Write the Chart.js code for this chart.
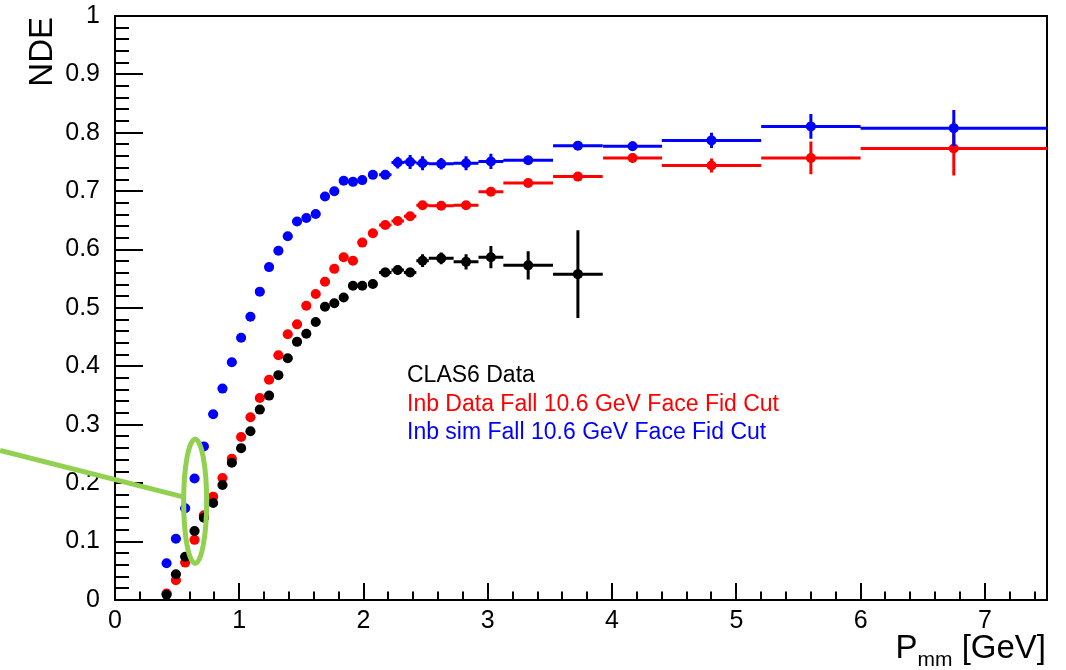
<!DOCTYPE html>
<html>
<head>
<meta charset="utf-8">
<script src="https://cdn.jsdelivr.net/npm/chart.js@4"></script>
<style>
  body { margin: 0; background: #fff; }
  canvas { display: block; }
</style>
</head>
<body>
<canvas id="nde" width="1066" height="670"></canvas>
<script>
// missing-momentum bin centres (GeV) and half widths
const pmm = [0.415, 0.49, 0.565, 0.64, 0.715, 0.79, 0.865, 0.94, 1.015, 1.09,
  1.165, 1.24, 1.315, 1.39, 1.465, 1.54, 1.615, 1.69, 1.765, 1.84,
  1.915, 1.99, 2.075, 2.175, 2.275, 2.375, 2.475, 2.625, 2.825, 3.025,
  3.325, 3.725, 4.165, 4.8, 5.6, 6.75];
const pmmErr = [0.0375, 0.0375, 0.0375, 0.0375, 0.0375, 0.0375, 0.0375, 0.0375, 0.0375, 0.0375,
  0.0375, 0.0375, 0.0375, 0.0375, 0.0375, 0.0375, 0.0375, 0.0375, 0.0375, 0.0375,
  0.0375, 0.0375, 0.0375, 0.05, 0.05, 0.05, 0.05, 0.1, 0.1, 0.1,
  0.2, 0.2, 0.2375, 0.4, 0.4, 0.75];

const simNde = [0.063, 0.105, 0.157, 0.208, 0.263, 0.318, 0.362, 0.407, 0.449, 0.485,
  0.528, 0.570, 0.598, 0.623, 0.648, 0.654, 0.661, 0.691, 0.700, 0.718,
  0.716, 0.719, 0.728, 0.728, 0.749, 0.750, 0.748, 0.747, 0.748, 0.751,
  0.753, 0.778, 0.777, 0.787, 0.811, 0.808];
const simErr = [0, 0, 0, 0, 0, 0, 0, 0, 0, 0,
  0, 0, 0, 0, 0, 0, 0, 0, 0, 0,
  0, 0, 0, 0.005, 0.01, 0.012, 0.012, 0.01, 0.012, 0.013,
  0.006, 0.005, 0.008, 0.013, 0.021, 0.031];

const dataNde = [0.011, 0.034, 0.064, 0.103, 0.145, 0.177, 0.209, 0.242, 0.279, 0.313,
  0.346, 0.377, 0.419, 0.455, 0.472, 0.504, 0.524, 0.545, 0.567, 0.587,
  0.581, 0.612, 0.628, 0.642, 0.649, 0.657, 0.676, 0.675, 0.676, 0.699,
  0.714, 0.725, 0.757, 0.744, 0.757, 0.773];
const dataErr = [0, 0, 0, 0, 0, 0, 0, 0, 0, 0,
  0, 0, 0, 0, 0, 0, 0, 0, 0, 0,
  0, 0, 0, 0, 0, 0, 0.005, 0.005, 0.005, 0.006,
  0.006, 0.006, 0.008, 0.012, 0.028, 0.046];

const clas6Nde = [0.009, 0.044, 0.074, 0.118, 0.141, 0.166, 0.197, 0.235, 0.260, 0.289,
  0.326, 0.350, 0.385, 0.414, 0.442, 0.456, 0.476, 0.502, 0.508, 0.518,
  0.538, 0.538, 0.541, 0.561, 0.565, 0.561, 0.581, 0.585, 0.579, 0.587,
  0.573, 0.558];
const clas6Err = [0, 0, 0, 0, 0, 0, 0, 0, 0, 0,
  0, 0, 0, 0, 0, 0, 0, 0, 0, 0,
  0, 0, 0, 0.008, 0.008, 0.008, 0.011, 0.01, 0.013, 0.019,
  0.024, 0.075];

const seriesNames = ["CLAS6 Data", "Inb Data Fall 10.6 GeV Face Fid Cut", "Inb sim Fall 10.6 GeV Face Fid Cut"];
const seriesColors = ["#000000", "#ff0000", "#0000ff"];

const xTicks = [0, 1, 2, 3, 4, 5, 6, 7];
const yTicks = [0, 0.1, 0.2, 0.3, 0.4, 0.5, 0.6, 0.7, 0.8, 0.9, 1];

const FONT = "'Liberation Sans', Arial, Helvetica, sans-serif";

function points(vals) {
  return vals.map((v, i) => ({ x: pmm[i], y: v }));
}

function series(label, vals, err, color) {
  return {
    label: label,
    data: points(vals),
    errY: err,
    errX: pmmErr,
    showLine: false,
    pointRadius: 5,
    pointHoverRadius: 5,
    pointBorderWidth: 0,
    pointBackgroundColor: color,
    borderColor: color,
    backgroundColor: color,
  };
}

// ROOT style error crosses, drawn right before each dataset's markers
const errorBars = {
  id: "errorBars",
  beforeDatasetDraw(chart, args) {
    const ds = chart.data.datasets[args.index];
    const { ctx, scales: { x, y } } = chart;
    ctx.save();
    ctx.strokeStyle = ds.borderColor;
    ctx.lineWidth = 3;
    ctx.beginPath();
    ds.data.forEach((p, i) => {
      const px = x.getPixelForValue(p.x);
      const py = y.getPixelForValue(p.y);
      const ex = ds.errX[i] || 0;
      const ey = ds.errY[i] || 0;
      if (ex > 0) {
        ctx.moveTo(x.getPixelForValue(p.x - ex), py);
        ctx.lineTo(x.getPixelForValue(p.x + ex), py);
      }
      if (ey > 0) {
        ctx.moveTo(px, y.getPixelForValue(p.y - ey));
        ctx.lineTo(px, y.getPixelForValue(p.y + ey));
      }
    });
    ctx.stroke();
    ctx.restore();
  },
};

// frame with inward major/minor ticks
const frame = {
  id: "frame",
  beforeDatasetsDraw(chart) {
    const { ctx, chartArea: a, scales: { x, y } } = chart;
    ctx.save();
    ctx.strokeStyle = "#000";
    ctx.lineWidth = 2;
    ctx.beginPath();
    for (let i = 0; i <= 37; i++) {
      const px = Math.round(x.getPixelForValue(i * 0.2));
      const len = i % 5 === 0 ? 17 : 8.5;
      ctx.moveTo(px, a.bottom);
      ctx.lineTo(px, a.bottom - len);
    }
    for (let i = 0; i <= 50; i++) {
      const py = Math.round(y.getPixelForValue(i * 0.02));
      const len = i % 5 === 0 ? 28 : 14;
      ctx.moveTo(a.left, py);
      ctx.lineTo(a.left + len, py);
    }
    ctx.stroke();
    ctx.strokeRect(a.left, a.top, a.right - a.left, a.bottom - a.top);
    ctx.restore();
  },
};

// axis titles, text legend and the green ring
const labels = {
  id: "labels",
  afterDraw(chart) {
    const { ctx, chartArea: a, scales: { x, y } } = chart;
    ctx.save();
    ctx.fillStyle = "#000";
    ctx.textBaseline = "alphabetic";

    ctx.save();
    ctx.translate(52, 17);
    ctx.rotate(-Math.PI / 2);
    ctx.textAlign = "right";
    ctx.font = "33px " + FONT;
    ctx.fillText("NDE", 0, 0);
    ctx.restore();

    // P_mm [GeV], right aligned on the axis end
    ctx.textAlign = "left";
    ctx.font = "33px " + FONT;
    const wP = ctx.measureText("P").width;
    const wG = ctx.measureText(" [GeV]").width;
    ctx.font = "21px " + FONT;
    const wS = ctx.measureText("mm").width;
    let tx = a.right - (wP + wS + wG) - 1;
    ctx.font = "33px " + FONT;
    ctx.fillText("P", tx, 658);
    tx += wP;
    ctx.font = "21px " + FONT;
    ctx.fillText("mm", tx, 666);
    tx += wS;
    ctx.font = "33px " + FONT;
    ctx.fillText(" [GeV]", tx, 658);

    ctx.font = "23px " + FONT;
    seriesNames.forEach((name, i) => {
      ctx.fillStyle = seriesColors[i];
      ctx.fillText(name, 407, 382 + i * 28.5);
    });

    ctx.strokeStyle = "#92d050";
    ctx.lineWidth = 5;
    ctx.beginPath();
    ctx.moveTo(x.getPixelForValue(-0.925), y.getPixelForValue(0.256));
    ctx.lineTo(x.getPixelForValue(0.54), y.getPixelForValue(0.177));
    ctx.stroke();
    ctx.beginPath();
    ctx.ellipse(x.getPixelForValue(0.645), y.getPixelForValue(0.169), 11.5, 62, 0, 0, Math.PI * 2);
    ctx.stroke();
    ctx.restore();
  },
};

Chart.defaults.font.family = FONT;
Chart.defaults.color = "#000";

const myChart = new Chart(document.getElementById("nde").getContext("2d"), {
  type: "scatter",
  data: {
    datasets: [
      series(seriesNames[2], simNde, simErr, seriesColors[2]),
      series(seriesNames[0], clas6Nde, clas6Err, seriesColors[0]),
      series(seriesNames[1], dataNde, dataErr, seriesColors[1]),
    ],
  },
  options: {
    responsive: false,
    animation: false,
    events: [],
    layout: { padding: { top: 16, right: 19, left: 0, bottom: 0 } },
    plugins: {
      legend: { display: false },
      tooltip: { enabled: false },
    },
    scales: {
      x: {
        type: "linear",
        min: 0,
        max: 7.5,
        afterBuildTicks: (s) => { s.ticks = xTicks.map((v) => ({ value: v })); },
        afterFit: (s) => { s.height = 70; s.paddingLeft = 0; s.paddingRight = 0; },
        grid: { display: false },
        border: { display: false },
        ticks: { font: { size: 25 }, color: "#000", padding: -2, autoSkip: false, maxRotation: 0,
          callback: (v) => String(v) },
      },
      y: {
        type: "linear",
        min: 0,
        max: 1,
        afterBuildTicks: (s) => { s.ticks = yTicks.map((v) => ({ value: v })); },
        afterFit: (s) => { s.width = 115; s.paddingTop = 0; s.paddingBottom = 0; },
        grid: { display: false },
        border: { display: false },
        ticks: { font: { size: 25 }, color: "#000", padding: 7, autoSkip: false,
          callback: (v) => String(Math.round(v * 10) / 10) },
      },
    },
  },
  plugins: [errorBars, frame, labels],
});
</script>
</body>
</html>
